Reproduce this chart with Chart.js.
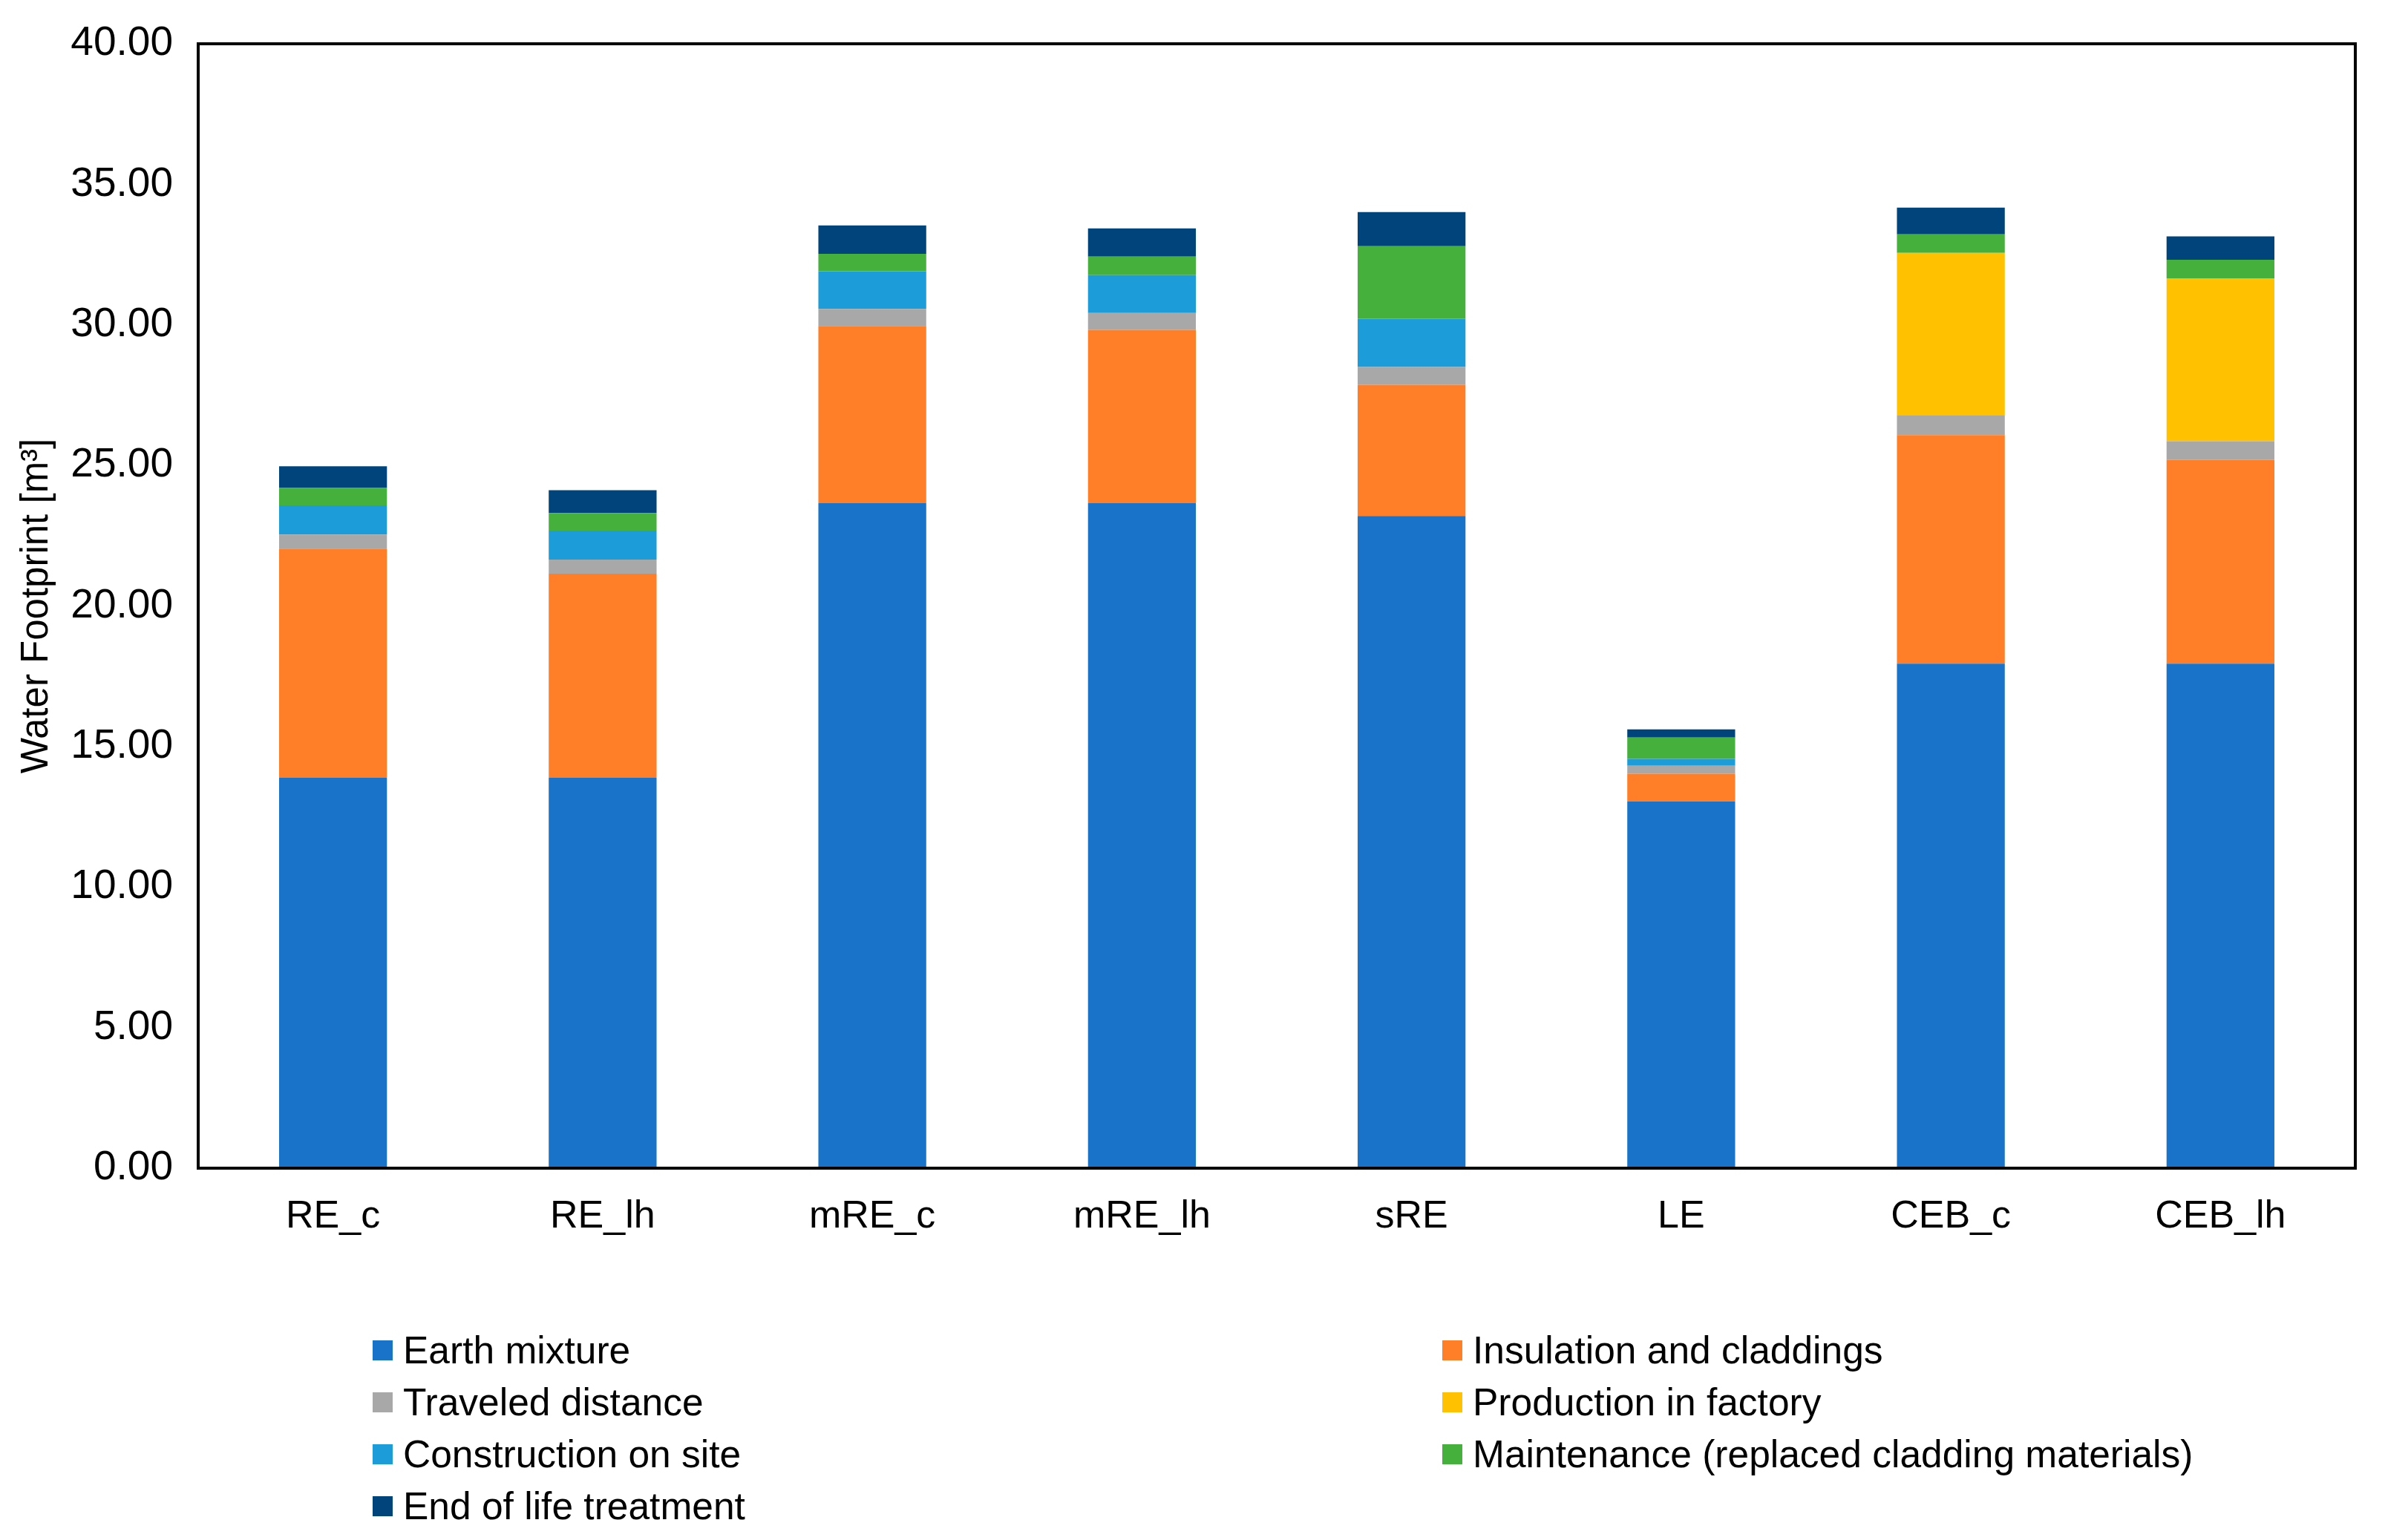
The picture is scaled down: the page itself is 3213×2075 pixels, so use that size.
<!DOCTYPE html>
<html>
<head>
<meta charset="utf-8">
<script src="https://cdn.jsdelivr.net/npm/chart.js@4.4.1/dist/chart.umd.min.js"></script>
<style>
  html, body { margin: 0; padding: 0; background: #ffffff; }
  #wrap { position: relative; width: 3213px; height: 2075px; background: #ffffff; }
  #chart { position: absolute; left: 0; top: 0; width: 3213px; height: 2075px; }
  #legend { position: absolute; left: 502px; top: 1784px; display: grid;
            grid-template-columns: 1441px auto; grid-auto-rows: 70px;
            font-family: "Liberation Sans", Arial, sans-serif; font-size: 51.5px; color: #000; }
  .item { display: flex; align-items: center; white-space: nowrap; }
  .box { width: 27px; height: 27px; margin-right: 14px; flex: none; }
</style>
</head>
<body>
<div id="wrap">
  <canvas id="chart" width="3213" height="2075"></canvas>
  <div id="legend"></div>
</div>
<script>
const categories = ['RE_c', 'RE_lh', 'mRE_c', 'mRE_lh', 'sRE', 'LE', 'CEB_c', 'CEB_lh'];
const earthMixture = [13.89, 13.89, 23.66, 23.66, 23.20, 13.05, 17.95, 17.95];
const insulation   = [8.15, 7.26, 6.30, 6.16, 4.67, 0.98, 8.13, 7.25];
const traveled     = [0.50, 0.50, 0.61, 0.60, 0.63, 0.29, 0.71, 0.66];
const production   = [null, null, null, null, null, null, 5.77, 5.80];
const construction = [1.04, 1.03, 1.34, 1.35, 1.72, 0.24, null, null];
const maintenance  = [0.62, 0.63, 0.62, 0.66, 2.58, 0.76, 0.66, 0.66];
const endOfLife    = [0.77, 0.81, 1.01, 1.00, 1.21, 0.29, 0.95, 0.83];
const yTicks = { min: 0, max: 40, step: 5 };
const yTitle = 'Water Footprint [m\u00B3]';

const FONT = '"Liberation Sans", Arial, sans-serif';

const seriesDefs = [
  { label: 'Earth mixture', data: earthMixture, color: '#1873C9' },
  { label: 'Insulation and claddings', data: insulation, color: '#FF7E27' },
  { label: 'Traveled distance', data: traveled, color: '#A8A8A8' },
  { label: 'Production in factory', data: production, color: '#FFC100' },
  { label: 'Construction on site', data: construction, color: '#1C9CD9' },
  { label: 'Maintenance (replaced cladding materials)', data: maintenance, color: '#45B03B' },
  { label: 'End of life treatment', data: endOfLife, color: '#00447C' }
];

const frame = {
  id: 'frame',
  afterDatasetsDraw(chart) {
    const a = chart.chartArea, ctx = chart.ctx;
    ctx.save();
    ctx.strokeStyle = '#000';
    ctx.lineWidth = 4;
    ctx.strokeRect(a.left, a.top, a.right - a.left, a.bottom - a.top);
    ctx.restore();
  }
};

const chart = new Chart(document.getElementById('chart'), {
  type: 'bar',
  data: {
    labels: categories,
    datasets: seriesDefs.map(s => ({
      label: s.label, data: s.data, backgroundColor: s.color,
      borderWidth: 0, categoryPercentage: 1.0, barPercentage: 0.4
    }))
  },
  options: {
    responsive: false,
    devicePixelRatio: 1,
    animation: false,
    layout: { padding: { top: 59, right: 40, left: 0, bottom: 0 } },
    plugins: { legend: { display: false }, tooltip: { enabled: false } },
    scales: {
      x: {
        stacked: true,
        grid: { display: false, drawTicks: false },
        border: { display: false },
        ticks: { color: '#000', font: { family: FONT, size: 52 }, padding: 34, maxRotation: 0 },
        afterFit(scale) { scale.height = 501; scale.paddingLeft = 0; scale.paddingRight = 0; }
      },
      y: {
        stacked: true,
        min: yTicks.min, max: yTicks.max,
        grid: { display: false, drawTicks: false },
        border: { display: false },
        ticks: {
          stepSize: yTicks.step, color: '#000', padding: 34,
          font: { family: FONT, size: 55 },
          callback: v => Number(v).toFixed(2)
        },
        title: {
          display: true, text: yTitle, color: '#000',
          font: { family: FONT, size: 51, lineHeight: 1 },
          padding: { top: 24, bottom: 0 }
        },
        afterFit(scale) { scale.width = 267; scale.paddingTop = 0; scale.paddingBottom = 0; }
      }
    }
  },
  plugins: [frame]
});

const legend = document.getElementById('legend');
chart.data.datasets.forEach(ds => {
  const item = document.createElement('div');
  item.className = 'item';
  const box = document.createElement('span');
  box.className = 'box';
  box.style.background = ds.backgroundColor;
  const txt = document.createElement('span');
  txt.textContent = ds.label;
  item.appendChild(box);
  item.appendChild(txt);
  legend.appendChild(item);
});
</script>
</body>
</html>
